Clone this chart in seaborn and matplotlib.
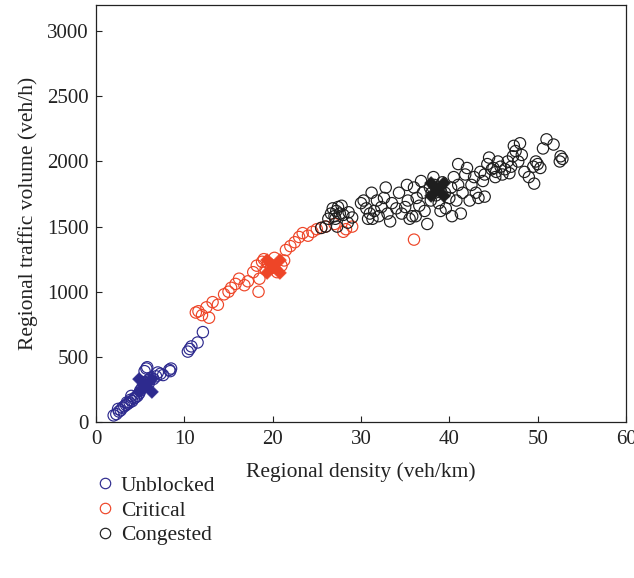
import matplotlib
matplotlib.use("Agg")
import matplotlib.pyplot as plt
from matplotlib.lines import Line2D
import seaborn as sns
import pandas as pd

# ---------------- data ----------------
unblocked_x = [2.0, 2.3, 2.5, 2.6, 2.8, 3.0, 3.2, 3.4, 3.5, 3.6, 3.8, 3.9, 4.0, 4.1, 4.3, 4.5,
               4.7, 4.9, 5.0, 5.2, 5.4, 5.5, 5.6, 5.7, 5.8, 5.9, 6.0, 6.2, 6.5, 6.8, 7.0, 7.3,
               7.6, 8.3, 8.4, 8.5, 10.4, 10.6, 10.8, 11.5, 12.1]
unblocked_y = [50, 60, 100, 80, 90, 110, 120, 130, 150, 140, 150, 170, 200, 160, 180, 190,
               200, 220, 240, 260, 280, 390, 300, 410, 420, 320, 300, 340, 330, 350, 380, 370,
               360, 400, 390, 410, 540, 560, 580, 610, 690]

critical_x = [11.3, 11.6, 12.0, 12.5, 12.8, 13.2, 13.8, 14.5, 15.0, 15.3, 15.8, 16.2, 16.8,
              17.2, 17.8, 18.2, 18.4, 18.5, 18.8, 19.0, 19.2, 19.5, 19.8, 20.0, 20.2, 20.5,
              21.0, 21.3, 21.5, 22.0, 22.5, 23.0, 23.4, 24.0, 24.5, 25.0, 25.5, 26.0, 27.0,
              28.0, 28.3, 29.0, 36.0]
critical_y = [840, 850, 820, 880, 800, 920, 900, 980, 1000, 1030, 1060, 1100, 1050,
              1080, 1150, 1200, 1000, 1100, 1230, 1250, 1170, 1220, 1180, 1200, 1260, 1150,
              1200, 1240, 1320, 1350, 1380, 1420, 1450, 1430, 1460, 1480, 1490, 1500, 1520,
              1460, 1480, 1500, 1400]

congested_x = [26.0, 26.3, 26.6, 26.8, 27.0, 27.2, 27.4, 27.6, 27.8, 28.0, 27.1, 25.5, 28.6,
               29.0, 27.3, 28.5,
               30.0, 30.3, 30.6, 31.0, 31.3, 31.5, 31.8, 32.0, 32.3, 32.6, 33.0, 33.3, 33.5,
               31.2, 32.8, 30.8,
               34.0, 34.3, 34.6, 35.0, 35.3, 35.5, 35.8, 36.0, 36.3, 36.6, 36.8, 37.0, 37.2,
               37.5, 36.2, 35.2,
               37.8, 38.0, 38.3, 38.5, 38.8, 39.0, 39.2, 39.5, 37.9, 38.8, 39.6, 40.0, 40.2,
               40.5, 40.8, 41.0, 41.3, 41.5, 41.8, 42.0, 42.3, 42.5, 39.0, 40.3, 41.0, 38.2,
               42.8, 43.0, 43.3, 43.5, 43.8, 44.0, 44.3, 44.5, 44.8, 45.0, 45.3, 45.5, 45.8,
               46.0, 46.3, 46.6, 47.0, 47.2, 47.5, 47.8, 47.3, 48.0, 48.2, 45.2, 46.8, 44.0,
               48.5, 49.0, 49.5, 49.8, 49.6, 50.0, 50.3, 50.6, 51.0, 51.8, 52.5, 52.8, 52.6]
congested_y = [1500, 1560, 1600, 1640, 1580, 1620, 1650, 1600, 1660, 1590, 1560, 1490, 1610,
               1570, 1500, 1530,
               1680, 1700, 1640, 1600, 1560, 1620, 1700, 1580, 1650, 1720, 1600, 1540, 1680,
               1760, 1800, 1560,
               1640, 1760, 1600, 1650, 1700, 1560, 1580, 1800, 1720, 1660, 1850, 1760, 1620,
               1520, 1580, 1820,
               1800, 1760, 1820, 1740, 1800, 1780, 1840, 1760, 1700, 1680, 1640, 1720, 1800,
               1880, 1700, 1820, 1600, 1760, 1900, 1950, 1700, 1820, 1620, 1580, 1980, 1880,
               1880, 1760, 1720, 1920, 1850, 1900, 1980, 2030, 1940, 1950, 1920, 2000, 1960,
               1900, 1940, 2000, 1960, 2040, 2080, 2000, 2120, 2140, 2050, 1880, 1910, 1730,
               1920, 1880, 1960, 2000, 1830, 1980, 1950, 2100, 2170, 2130, 2000, 2020, 2040]

centroid_x = [5.5, 20.0, 38.6]
centroid_y = [280, 1195, 1785]

labels = ["Unblocked", "Critical", "Congested"]
colors = ["#2d2a8e", "#ee4527", "#1e1e1e"]

x_ticks = [0, 10, 20, 30, 40, 50, 60]
y_ticks = [0, 500, 1000, 1500, 2000, 2500, 3000]

# ---------------- plot ----------------
sns.set_theme(style="ticks")
plt.rcParams["font.family"] = ["Liberation Serif", "DejaVu Serif"]

fig = plt.figure(figsize=(6.34, 5.78), dpi=100)
ax = fig.add_axes([0.1514, 0.270, 0.836, 0.721])

clusters = [(unblocked_x, unblocked_y), (critical_x, critical_y), (congested_x, congested_y)]
for (xs, ys), lab, col in zip(clusters, labels, colors):
    df = pd.DataFrame({"x": xs, "y": ys})
    sns.scatterplot(data=df, x="x", y="y", ax=ax, marker="o", s=66,
                    facecolors="none", edgecolor=col, linewidth=0.85, legend=False)

for i in range(3):
    sns.scatterplot(x=[centroid_x[i]], y=[centroid_y[i]], ax=ax, marker="X", s=340,
                    color=colors[i], edgecolor=colors[i], linewidth=0.5, legend=False)

ax.set_xlim(0, 60)
ax.set_ylim(0, 3200)
ax.set_xticks(x_ticks)
ax.set_yticks(y_ticks)
ax.tick_params(direction="in", length=4, width=0.8, labelsize=15, colors="#222222",
               labelcolor="#222222")
ax.tick_params(axis="x", pad=6)
ax.tick_params(axis="y", pad=5)
for sp in ax.spines.values():
    sp.set_linewidth(0.9)
    sp.set_color("#222222")
    sp.set_visible(True)
ax.set_xlabel("Regional density (veh/km)", fontsize=15.5, color="#222222", labelpad=9)
ax.set_ylabel("Regional traffic volume (veh/h)", fontsize=15.5, color="#222222", labelpad=7)

handles = [Line2D([0], [0], marker="o", linestyle="none", markerfacecolor="none",
                  markeredgecolor=c, markersize=7.5, markeredgewidth=0.85) for c in colors]
fig.legend(handles, labels, loc="upper left", bbox_to_anchor=(0.148, 0.177),
           frameon=False, fontsize=15.5, handletextpad=0.25, labelspacing=0.22,
           handlelength=1.0, borderaxespad=0, borderpad=0, labelcolor="#222222")

fig.savefig("out.png", dpi=100)
